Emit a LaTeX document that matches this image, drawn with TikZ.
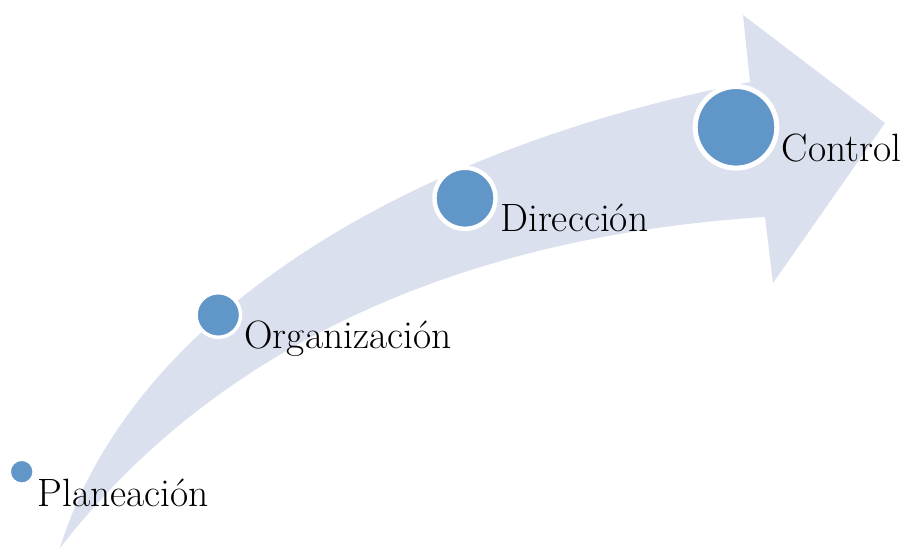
\documentclass[tikz,border=0pt]{standalone}
\usepackage{fontspec}
\definecolor{arrowfill}{RGB}{219,224,239}
\definecolor{dotblue}{RGB}{97,150,201}
\begin{document}
\begin{tikzpicture}[x=1pt,y=-1pt,
  dot/.style={circle,fill=dotblue,draw=white,inner sep=0pt},
  lbl/.style={anchor=base west,inner sep=0pt,font=\fontsize{39.5}{44}\selectfont}]
\useasboundingbox (0,0) rectangle (902,551);
% curved arrow
\fill[arrowfill] (60,548)
  .. controls (130,320) and (400,150) .. (750,82)
  -- (743,15) -- (885,123) -- (773,283) -- (765,217)
  .. controls (480,235) and (225,335) .. (60,548) -- cycle;
% circles
\node[dot,line width=1.5pt,minimum size=23pt] (c1) at (21.7,471.7) {};
\node[dot,line width=3.5pt,minimum size=44.6pt] (c2) at (218.3,315) {};
\node[dot,line width=4.4pt,minimum size=61pt] (c3) at (465,198.3) {};
\node[dot,line width=5pt,minimum size=81.6pt] (c4) at (736,127.3) {};
% labels
\node[lbl] (t1) at (37.3,506) {Planeación};
\node[lbl] (t2) at (244.3,348.3) {Organización};
\node[lbl] (t3) at (500,231.7) {Dirección};
\node[lbl] (t4) at (781.7,161.7) {Control};
\end{tikzpicture}
\end{document}
